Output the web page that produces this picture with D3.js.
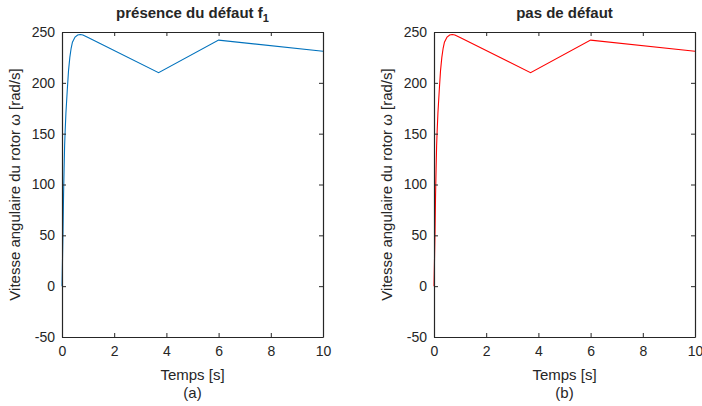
<!DOCTYPE html>
<html><head><meta charset="utf-8">
<script src="https://cdn.jsdelivr.net/npm/d3@7"></script>
<style>
body{margin:0;background:#fff;}
svg text{font-family:"Liberation Sans",Arial,sans-serif;fill:#262626;}
</style></head>
<body>
<svg id="c" width="702" height="406"></svg>
<script>
const timeS = [0, 0.02, 0.04, 0.06, 0.08, 0.1, 0.12, 0.15, 0.2, 0.25, 0.3, 0.35, 0.4, 0.5, 0.6, 0.7, 0.8, 1.0, 3.7, 6.0, 10];
const omegaFault = [0, 27, 55, 90, 115, 138, 152, 170, 192, 212, 225, 234, 240, 245, 247, 247.5, 247, 244.5, 210, 242, 231];
const omegaHealthy = [0, 27, 55, 90, 115, 138, 152, 170, 192, 212, 225, 234, 240, 245, 247, 247.5, 247, 244.5, 210, 242, 231];
const xTicks = [0, 2, 4, 6, 8, 10];
const yTicks = [-50, 0, 50, 100, 150, 200, 250];
const titles = ["présence du défaut f", "pas de défaut"];
const subLabels = ["(a)", "(b)"];
const xLabel = "Temps [s]";
const yLabel = "Vitesse angulaire du rotor ω [rad/s]";

const svg = d3.select("#c");
const panels = [
  {x0: 62, x1: 323, vals: omegaFault, color: "#0072BD", title: titles[0], sub: "1", lab: subLabels[0]},
  {x0: 434, x1: 695, vals: omegaHealthy, color: "#FF0000", title: titles[1], sub: null, lab: subLabels[1]}
];
const yTop = 32, yBot = 337;
const fmt = d => String(d);

panels.forEach(p => {
  const x = d3.scaleLinear().domain([0, 10]).range([p.x0, p.x1]);
  const y = d3.scaleLinear().domain([-50, 250]).range([yBot, yTop]);
  const g = svg.append("g");

  const line = d3.line().x((d,i) => x(timeS[i])).y(d => y(d));
  g.append("path").datum(p.vals).attr("d", line).attr("fill", "none")
    .attr("stroke", p.color).attr("stroke-width", 1.1);

  const ax = (sel) => { sel.selectAll("path").attr("stroke", "#262626"); sel.selectAll("line").attr("stroke", "#262626"); };
  const bx = g.append("g").attr("transform", `translate(0,${yBot})`)
    .call(d3.axisBottom(x).tickValues(xTicks).tickSize(-4).tickSizeOuter(0).tickPadding(9).tickFormat(fmt));
  bx.call(ax); bx.selectAll("text").style("font-size", "14px").style("font-family", "'Liberation Sans',Arial").attr("fill", "#262626");
  const tx = g.append("g").attr("transform", `translate(0,${yTop})`)
    .call(d3.axisTop(x).tickValues(xTicks).tickSize(-4).tickSizeOuter(0).tickFormat(""));
  tx.call(ax);
  const ly = g.append("g").attr("transform", `translate(${p.x0},0)`)
    .call(d3.axisLeft(y).tickValues(yTicks).tickSize(-4).tickSizeOuter(0).tickPadding(7).tickFormat(fmt));
  ly.call(ax); ly.selectAll("text").style("font-size", "14px").style("font-family", "'Liberation Sans',Arial").attr("fill", "#262626");
  const ry = g.append("g").attr("transform", `translate(${p.x1},0)`)
    .call(d3.axisRight(y).tickValues(yTicks).tickSize(-4).tickSizeOuter(0).tickFormat(""));
  ry.call(ax);
  g.selectAll(".domain").attr("stroke-width", 1.2);

  const cx = (p.x0 + p.x1) / 2;
  const t = g.append("text").attr("x", cx).attr("y", 18).attr("text-anchor", "middle")
    .style("font-size", "15px").style("font-weight", "bold").text(p.title);
  if (p.sub) t.append("tspan").attr("dy", 4).style("font-size", "11px").text(p.sub);

  g.append("text").attr("x", cx).attr("y", 380).attr("text-anchor", "middle")
    .style("font-size", "15px").text(xLabel);
  g.append("text").attr("x", cx).attr("y", 398).attr("text-anchor", "middle")
    .style("font-size", "15px").text(p.lab);
  g.append("text").attr("transform", `translate(${p.x0 - 42},${(yTop + yBot) / 2}) rotate(-90)`)
    .attr("text-anchor", "middle").style("font-size", "15px").text(yLabel);
});
</script>
</body></html>
